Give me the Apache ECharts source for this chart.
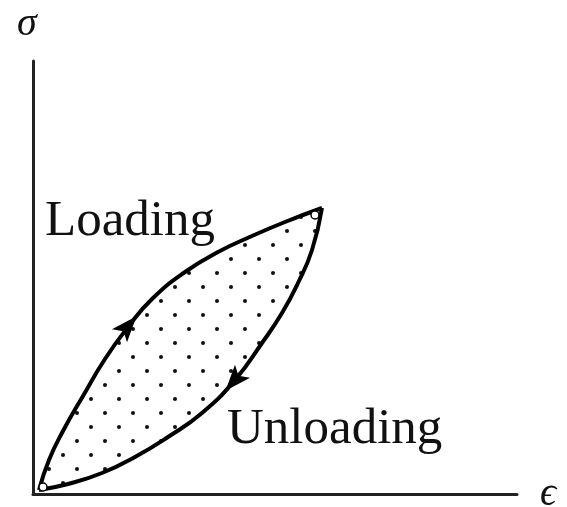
<!DOCTYPE html>
<html>
<head>
<meta charset="utf-8">
<script src="https://cdn.jsdelivr.net/npm/echarts@6/dist/echarts.min.js"></script>
<style>
html, body { margin: 0; padding: 0; background: #fff; }
#chart { width: 567px; height: 507px; }
</style>
</head>
<body>
<div id="chart"></div>
<script>
// strain / stress in arbitrary units (axis spans 0..484 by 0..433)
const loadingCurve = [
  [6, 4], [16, 34], [30, 63], [50, 98], [72, 135], [95, 167], [119, 195],
  [152, 222], [185, 242], [219, 258], [252, 272], [289, 286]
];
const unloadingCurve = [
  [289, 286], [279, 244], [265, 211], [249, 181], [229, 151], [202, 114],
  [169, 81], [135, 57], [102, 37], [69, 21], [35, 10], [6, 4]
];
const arrowPoints = [[95, 168], [201, 113]];
const arrowAngles = [-41, 139];
const endRings = [[10, 7], [282, 279]];

const serif = "'Liberation Serif', 'DejaVu Serif', serif";

function dotPattern() {
  const size = 28;
  const canvas = document.createElement("canvas");
  canvas.width = size;
  canvas.height = size;
  const ctx = canvas.getContext("2d");
  ctx.fillStyle = "#111";
  [[7, 7], [21, 21]].forEach(([x, y]) => {
    ctx.beginPath();
    ctx.arc(x, y, 2, 0, Math.PI * 2);
    ctx.fill();
  });
  return canvas;
}

const pattern = dotPattern();
const chart = echarts.init(document.getElementById("chart"));

const curveStyle = { color: "#000", width: 4 };

chart.setOption({
  animation: false,
  backgroundColor: "#fff",
  grid: { left: 33, right: 50, top: 61, bottom: 13 },
  xAxis: {
    type: "value", min: 0, max: 484,
    axisLine: { lineStyle: { color: "#222", width: 3 } },
    axisTick: { show: false }, axisLabel: { show: false }, splitLine: { show: false }
  },
  yAxis: {
    type: "value", min: 0, max: 433,
    axisLine: { show: true, lineStyle: { color: "#222", width: 3 } },
    axisTick: { show: false }, axisLabel: { show: false }, splitLine: { show: false }
  },
  graphic: [
    { type: "text", left: 17, top: 4, style: { text: "σ", font: "italic 40px " + serif, fill: "#111" } },
    { type: "text", left: 540, top: 474, style: { text: "ϵ", font: "italic 40px " + serif, fill: "#111" } },
    { type: "text", left: 45, top: 196, style: { text: "Loading", font: "51px " + serif, fill: "#111" } },
    { type: "text", left: 227, top: 404, style: { text: "Unloading", font: "51px " + serif, fill: "#111" } }
  ],
  series: [
    {
      type: "custom",
      silent: true,
      z: 1,
      data: [[0, 0]],
      renderItem(params, api) {
        const pts = loadingCurve.concat(unloadingCurve).map((p) => api.coord(p));
        return {
          type: "polygon",
          shape: { points: pts },
          style: { fill: { image: pattern, repeat: "repeat" }, stroke: null }
        };
      }
    },
    {
      type: "line", data: loadingCurve, smooth: true, symbol: "none",
      lineStyle: curveStyle, z: 3
    },
    {
      type: "line", data: unloadingCurve, smooth: true, symbol: "none",
      lineStyle: curveStyle, z: 3
    },
    {
      type: "scatter",
      z: 4,
      symbol: "path://M0,-12 L9,9 L0,4 L-9,9 Z",
      symbolSize: [20, 26],
      itemStyle: { color: "#000", opacity: 1 },
      data: arrowPoints.map((p, i) => ({ value: p, symbolRotate: arrowAngles[i] }))
    },
    {
      type: "scatter",
      z: 4,
      symbol: "circle",
      symbolSize: 8,
      itemStyle: { color: "#fff", borderColor: "#000", borderWidth: 1.5, opacity: 1 },
      data: endRings
    }
  ]
});
</script>
</body>
</html>
